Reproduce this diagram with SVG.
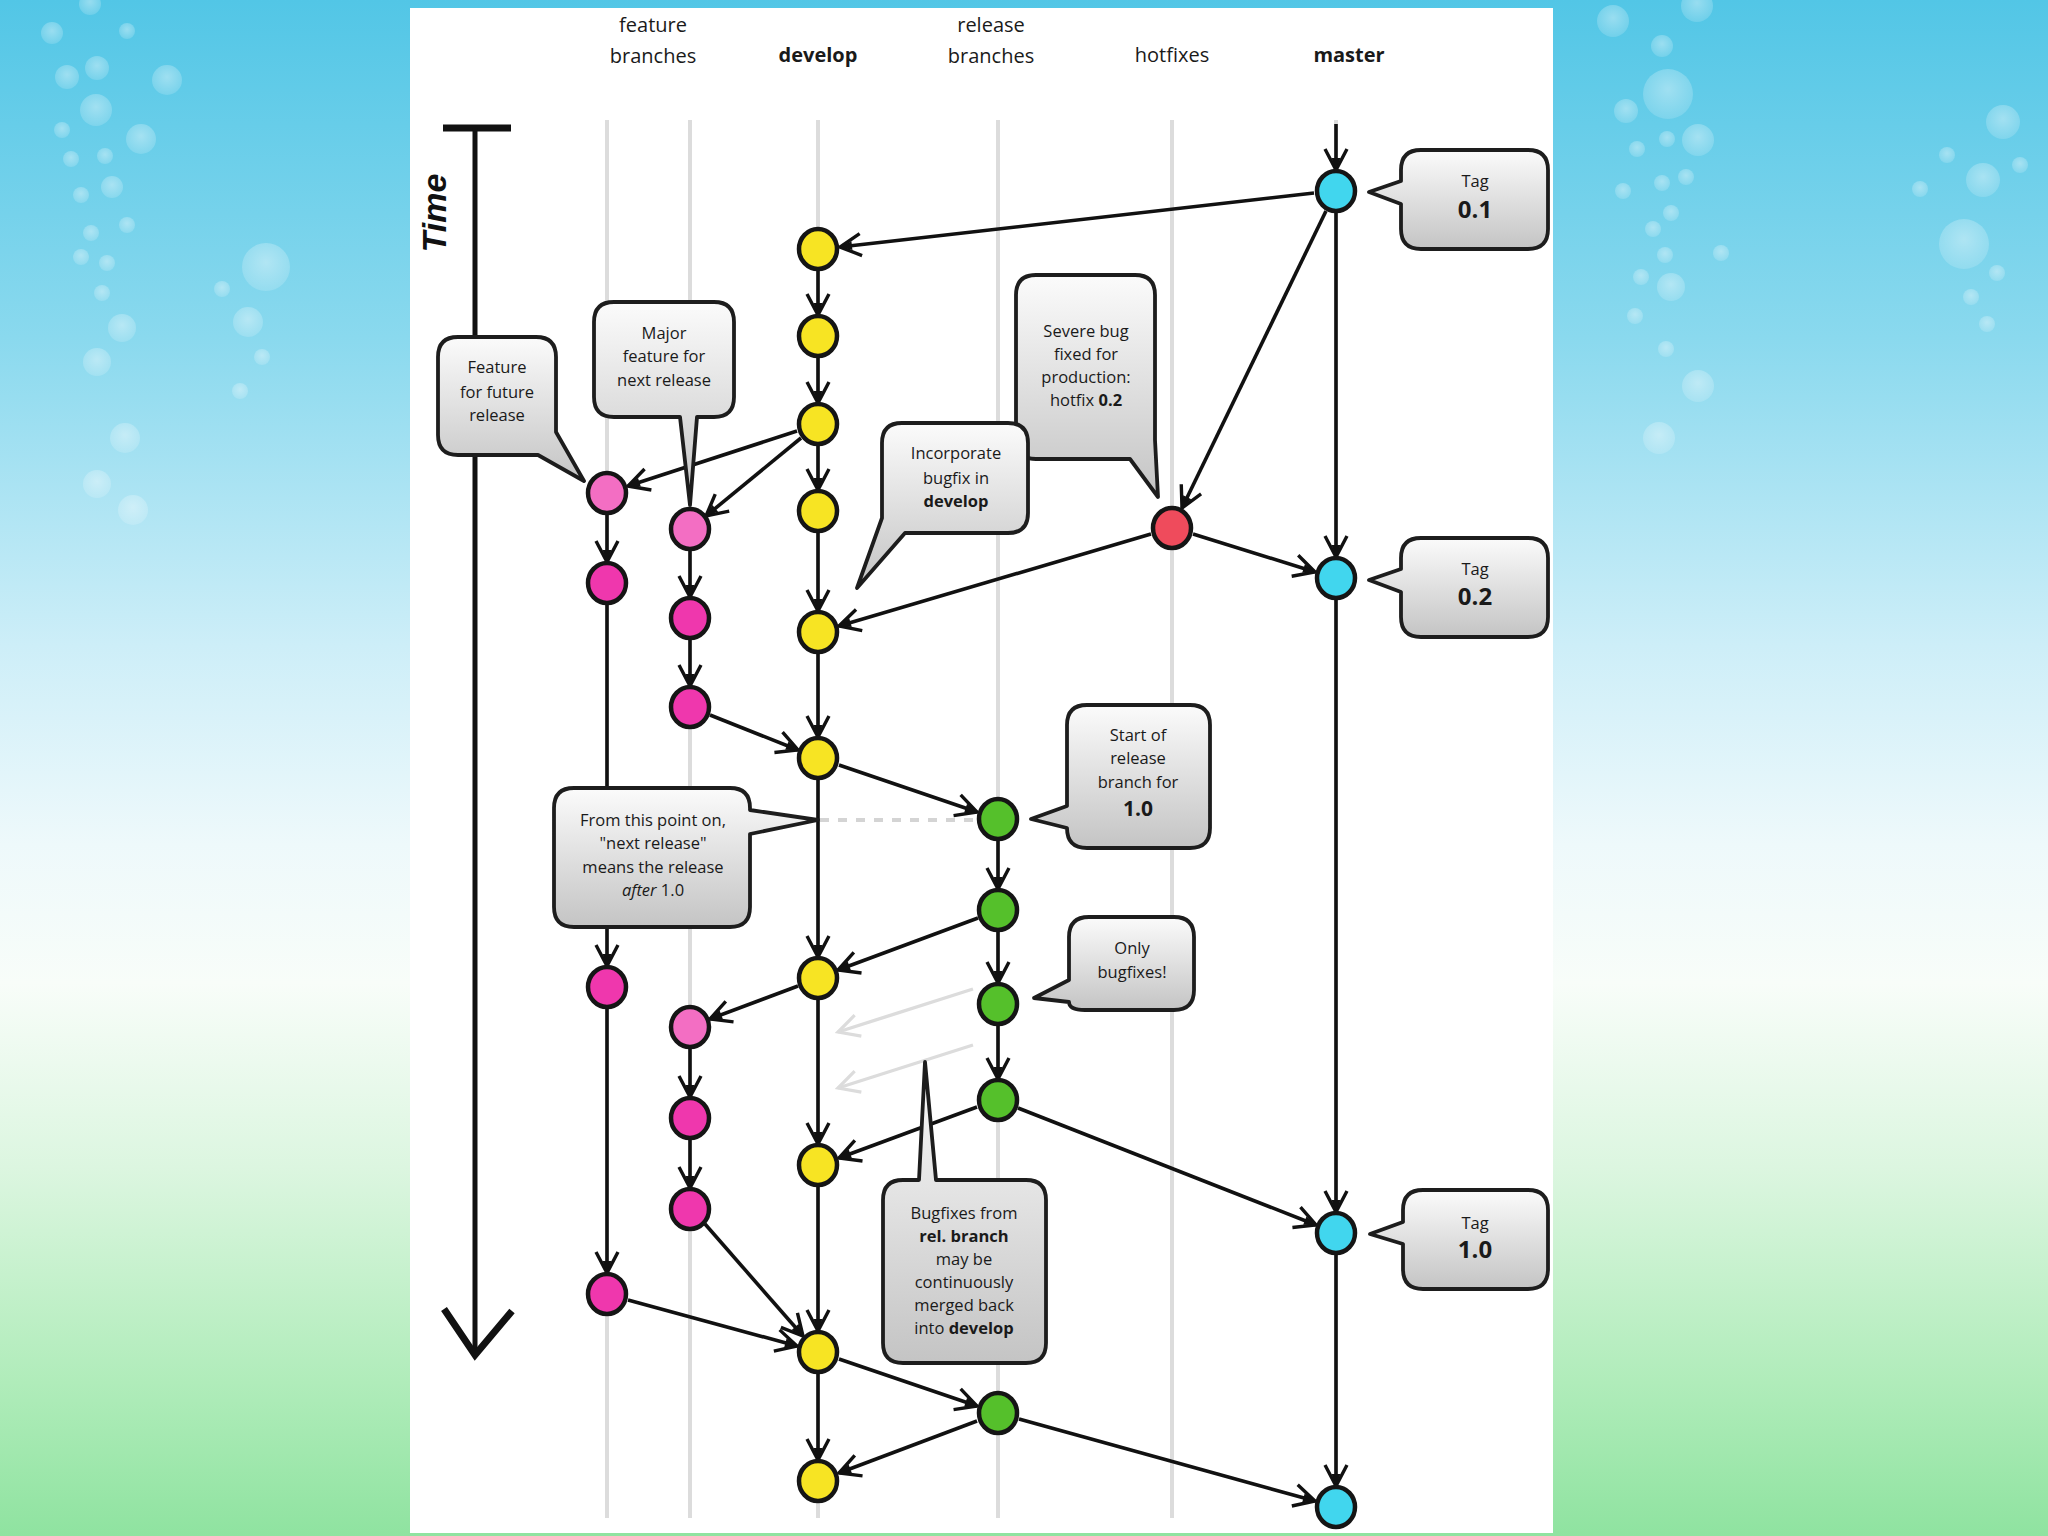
<svg xmlns="http://www.w3.org/2000/svg" width="2048" height="1536" viewBox="0 0 2048 1536">
<defs>
<linearGradient id="bg" x1="0" y1="0" x2="0" y2="1">
<stop offset="0" stop-color="#52c6e6"/>
<stop offset="0.22" stop-color="#8ad9ee"/>
<stop offset="0.42" stop-color="#cdeef8"/>
<stop offset="0.55" stop-color="#eef9fb"/>
<stop offset="0.64" stop-color="#f8fdf9"/>
<stop offset="0.76" stop-color="#dcf6e0"/>
<stop offset="0.9" stop-color="#b0ecba"/>
<stop offset="1" stop-color="#8fe3a0"/>
</linearGradient>
<radialGradient id="bub" cx="0.5" cy="0.4" r="0.6">
<stop offset="0" stop-color="#ffffff" stop-opacity="0.4"/>
<stop offset="1" stop-color="#ffffff" stop-opacity="0.15"/>
</radialGradient>
<linearGradient id="cg" x1="0" y1="0" x2="0" y2="1">
<stop offset="0" stop-color="#fbfbfb"/>
<stop offset="1" stop-color="#c4c4c4"/>
</linearGradient>
<marker id="ah" markerUnits="userSpaceOnUse" markerWidth="28" markerHeight="28" viewBox="0 0 28 28" refX="25" refY="14" orient="auto">
<path d="M4,3 L25,14 L4,25" fill="none" stroke="#111" stroke-width="3.4" stroke-linejoin="miter"/>
<path d="M13,9.5 L25,14 L13,18.5 Z" fill="#111"/>
</marker>
<marker id="ahg" markerUnits="userSpaceOnUse" markerWidth="28" markerHeight="28" viewBox="0 0 28 28" refX="25" refY="14" orient="auto">
<path d="M4,3 L25,14 L4,25" fill="none" stroke="#dcdcdc" stroke-width="3.2"/>
</marker>
<style>
.lane{stroke:#dcdcdc;stroke-width:4;fill:none}
.e{stroke:#111;stroke-width:3.6;fill:none;marker-end:url(#ah)}
.eg{stroke:#dcdcdc;stroke-width:3.4;fill:none;marker-end:url(#ahg)}
.n{stroke:#151515;stroke-width:4.5}
.y{fill:#f7e423}.c{fill:#41d6ee}.g{fill:#55c02b}.p{fill:#f36ec3}.m{fill:#ef37ad}.r{fill:#ef4b5c}
.co{fill:url(#cg);stroke:#1d1d1d;stroke-width:3.8;stroke-linejoin:round}
.t{font-family:"Open Sans","Noto Sans","Liberation Sans",sans-serif;font-size:16.5px;fill:#1a1a1a;text-anchor:middle}
.h{font-family:"Open Sans","Noto Sans","Liberation Sans",sans-serif;font-size:20px;fill:#1a1a1a;text-anchor:middle}
.b{font-weight:bold}
.bub{fill:url(#bub)}
</style>
</defs>

<rect x="0" y="0" width="2048" height="1536" fill="url(#bg)"/>
<g id="bubbles">
<circle class="bub" cx="90" cy="4" r="11"/><circle class="bub" cx="52" cy="33" r="11"/><circle class="bub" cx="127" cy="31" r="8"/>
<circle class="bub" cx="67" cy="77" r="12"/><circle class="bub" cx="97" cy="68" r="12"/><circle class="bub" cx="167" cy="80" r="15"/>
<circle class="bub" cx="96" cy="110" r="16"/><circle class="bub" cx="62" cy="130" r="8"/><circle class="bub" cx="141" cy="139" r="15"/>
<circle class="bub" cx="71" cy="159" r="8"/><circle class="bub" cx="105" cy="156" r="8"/><circle class="bub" cx="112" cy="187" r="11"/>
<circle class="bub" cx="81" cy="195" r="8"/><circle class="bub" cx="91" cy="233" r="8"/><circle class="bub" cx="127" cy="225" r="8"/>
<circle class="bub" cx="81" cy="257" r="8"/><circle class="bub" cx="107" cy="263" r="8"/><circle class="bub" cx="102" cy="293" r="8"/>
<circle class="bub" cx="122" cy="328" r="14"/><circle class="bub" cx="97" cy="362" r="14"/><circle class="bub" cx="266" cy="267" r="24"/>
<circle class="bub" cx="222" cy="289" r="8"/><circle class="bub" cx="248" cy="322" r="15"/><circle class="bub" cx="262" cy="357" r="8"/>
<circle class="bub" cx="240" cy="391" r="8"/><circle class="bub" cx="125" cy="438" r="15"/><circle class="bub" cx="97" cy="484" r="14"/>
<circle class="bub" cx="133" cy="510" r="15"/>
<circle class="bub" cx="1613" cy="21" r="16"/><circle class="bub" cx="1697" cy="6" r="16"/><circle class="bub" cx="1662" cy="46" r="11"/>
<circle class="bub" cx="1668" cy="94" r="25"/><circle class="bub" cx="1626" cy="111" r="12"/><circle class="bub" cx="1698" cy="140" r="16"/>
<circle class="bub" cx="1667" cy="139" r="8"/><circle class="bub" cx="1637" cy="149" r="8"/><circle class="bub" cx="1662" cy="183" r="8"/>
<circle class="bub" cx="1686" cy="177" r="8"/><circle class="bub" cx="1623" cy="191" r="8"/><circle class="bub" cx="1671" cy="213" r="8"/>
<circle class="bub" cx="1653" cy="229" r="8"/><circle class="bub" cx="1665" cy="255" r="8"/><circle class="bub" cx="1721" cy="253" r="8"/>
<circle class="bub" cx="1641" cy="277" r="8"/><circle class="bub" cx="1671" cy="287" r="14"/><circle class="bub" cx="1635" cy="316" r="8"/>
<circle class="bub" cx="1666" cy="349" r="8"/><circle class="bub" cx="1698" cy="386" r="16"/><circle class="bub" cx="1659" cy="438" r="16"/>
<circle class="bub" cx="2003" cy="122" r="17"/><circle class="bub" cx="1947" cy="155" r="8"/><circle class="bub" cx="2020" cy="165" r="8"/>
<circle class="bub" cx="1983" cy="180" r="17"/><circle class="bub" cx="1920" cy="189" r="8"/><circle class="bub" cx="1964" cy="244" r="25"/>
<circle class="bub" cx="1997" cy="273" r="8"/><circle class="bub" cx="1971" cy="297" r="8"/><circle class="bub" cx="1987" cy="324" r="8"/>
</g>

<rect id="panel" x="410" y="8" width="1143" height="1525" fill="#ffffff"/>

<g id="headers">
<text class="h" x="653" y="32">feature</text>
<text class="h" x="653" y="63">branches</text>
<text class="h b" x="818" y="62">develop</text>
<text class="h" x="991" y="32">release</text>
<text class="h" x="991" y="63">branches</text>
<text class="h" x="1172" y="62">hotfixes</text>
<text class="h b" x="1349" y="62">master</text>
</g>

<g id="lanes">
<line class="lane" x1="607" y1="120" x2="607" y2="1518"/>
<line class="lane" x1="690" y1="120" x2="690" y2="1518"/>
<line class="lane" x1="818" y1="120" x2="818" y2="1518"/>
<line class="lane" x1="998" y1="120" x2="998" y2="1518"/>
<line class="lane" x1="1172" y1="120" x2="1172" y2="1518"/>
<line class="lane" x1="1336" y1="120" x2="1336" y2="1518"/>
</g>

<g id="time-axis">
<line x1="443" y1="128" x2="511" y2="128" stroke="#111" stroke-width="7"/>
<line x1="475" y1="128" x2="475" y2="1352" stroke="#111" stroke-width="5"/>
<path d="M444,1309 L475,1355 L512,1311" fill="none" stroke="#111" stroke-width="7" stroke-linejoin="miter"/>
<text transform="translate(446,213) rotate(-90)" text-anchor="middle" font-family="'Liberation Sans',Arial,sans-serif" font-size="34" font-weight="bold" font-style="italic" fill="#111">Time</text>
</g>

<g id="connectors">
<line class="e" x1="1336" y1="124" x2="1336" y2="170"/>
<line class="e" x1="1314" y1="193" x2="840" y2="247"/>
<line class="e" x1="1326" y1="211" x2="1182" y2="508"/>
<line class="e" x1="1336" y1="212" x2="1336" y2="557"/>
<line class="e" x1="1193" y1="534" x2="1315" y2="572"/>
<line class="e" x1="1151" y1="534" x2="839" y2="626"/>
<line class="e" x1="818" y1="270" x2="818" y2="315"/>
<line class="e" x1="818" y1="357" x2="818" y2="403"/>
<line class="e" x1="818" y1="445" x2="818" y2="490"/>
<line class="e" x1="818" y1="532" x2="818" y2="611"/>
<line class="e" x1="818" y1="653" x2="818" y2="737"/>
<line class="e" x1="818" y1="779" x2="818" y2="957"/>
<line class="e" x1="818" y1="999" x2="818" y2="1144"/>
<line class="e" x1="818" y1="1186" x2="818" y2="1331"/>
<line class="e" x1="818" y1="1373" x2="818" y2="1460"/>
<line class="e" x1="797" y1="431" x2="628" y2="486"/>
<line class="e" x1="801" y1="438" x2="706" y2="516"/>
<line class="e" x1="607" y1="514" x2="607" y2="562"/>
<line class="e" x1="607" y1="604" x2="607" y2="966"/>
<line class="e" x1="607" y1="1008" x2="607" y2="1273"/>
<line class="e" x1="690" y1="550" x2="690" y2="597"/>
<line class="e" x1="690" y1="639" x2="690" y2="686"/>
<line class="e" x1="710" y1="715" x2="798" y2="750"/>
<line class="e" x1="839" y1="765" x2="977" y2="812"/>
<line x1="820" y1="820" x2="976" y2="820" stroke="#d4d4d4" stroke-width="4" stroke-dasharray="9,9"/>
<line class="e" x1="998" y1="840" x2="998" y2="889"/>
<line class="e" x1="998" y1="931" x2="998" y2="983"/>
<line class="e" x1="998" y1="1025" x2="998" y2="1079"/>
<line class="e" x1="978" y1="918" x2="838" y2="970"/>
<line class="e" x1="798" y1="986" x2="710" y2="1019"/>
<line class="e" x1="690" y1="1048" x2="690" y2="1097"/>
<line class="e" x1="690" y1="1139" x2="690" y2="1188"/>
<line class="eg" x1="973" y1="989" x2="838" y2="1032"/>
<line class="eg" x1="973" y1="1045" x2="838" y2="1088"/>
<line class="e" x1="977" y1="1107" x2="839" y2="1158"/>
<line class="e" x1="1018" y1="1108" x2="1316" y2="1225"/>
<line class="e" x1="1336" y1="599" x2="1336" y2="1212"/>
<line class="e" x1="705" y1="1224" x2="803" y2="1336"/>
<line class="e" x1="628" y1="1300" x2="797" y2="1346"/>
<line class="e" x1="839" y1="1359" x2="977" y2="1406"/>
<line class="e" x1="977" y1="1421" x2="839" y2="1473"/>
<line class="e" x1="1019" y1="1419" x2="1315" y2="1501"/>
<line class="e" x1="1336" y1="1254" x2="1336" y2="1486"/>
</g>

<g id="nodes">
<ellipse id="m1" class="n c" cx="1336" cy="191" rx="19" ry="20"/>
<ellipse id="m2" class="n c" cx="1336" cy="578" rx="19" ry="20"/>
<ellipse id="m3" class="n c" cx="1336" cy="1233" rx="19" ry="20"/>
<ellipse id="m4" class="n c" cx="1336" cy="1507" rx="19" ry="20"/>
<ellipse id="h1" class="n r" cx="1172" cy="528" rx="19" ry="20"/>
<ellipse id="d1" class="n y" cx="818" cy="249" rx="19" ry="20"/>
<ellipse id="d2" class="n y" cx="818" cy="336" rx="19" ry="20"/>
<ellipse id="d3" class="n y" cx="818" cy="424" rx="19" ry="20"/>
<ellipse id="d4" class="n y" cx="818" cy="511" rx="19" ry="20"/>
<ellipse id="d5" class="n y" cx="818" cy="632" rx="19" ry="20"/>
<ellipse id="d6" class="n y" cx="818" cy="758" rx="19" ry="20"/>
<ellipse id="d7" class="n y" cx="818" cy="978" rx="19" ry="20"/>
<ellipse id="d8" class="n y" cx="818" cy="1165" rx="19" ry="20"/>
<ellipse id="d9" class="n y" cx="818" cy="1352" rx="19" ry="20"/>
<ellipse id="d10" class="n y" cx="818" cy="1481" rx="19" ry="20"/>
<ellipse id="f1a" class="n p" cx="607" cy="493" rx="19" ry="20"/>
<ellipse id="f1b" class="n m" cx="607" cy="583" rx="19" ry="20"/>
<ellipse id="f1c" class="n m" cx="607" cy="987" rx="19" ry="20"/>
<ellipse id="f1d" class="n m" cx="607" cy="1294" rx="19" ry="20"/>
<ellipse id="f2a" class="n p" cx="690" cy="529" rx="19" ry="20"/>
<ellipse id="f2b" class="n m" cx="690" cy="618" rx="19" ry="20"/>
<ellipse id="f2c" class="n m" cx="690" cy="707" rx="19" ry="20"/>
<ellipse id="f2d" class="n p" cx="690" cy="1027" rx="19" ry="20"/>
<ellipse id="f2e" class="n m" cx="690" cy="1118" rx="19" ry="20"/>
<ellipse id="f2f" class="n m" cx="690" cy="1209" rx="19" ry="20"/>
<ellipse id="r1" class="n g" cx="998" cy="819" rx="19" ry="20"/>
<ellipse id="r2" class="n g" cx="998" cy="910" rx="19" ry="20"/>
<ellipse id="r3" class="n g" cx="998" cy="1004" rx="19" ry="20"/>
<ellipse id="r4" class="n g" cx="998" cy="1100" rx="19" ry="20"/>
<ellipse id="r5" class="n g" cx="998" cy="1413" rx="19" ry="20"/>
</g>

<g id="callout-tag01">
<path class="co" d="M1421,150 H1528 Q1548,150 1548,170 V229 Q1548,249 1528,249 H1421 Q1401,249 1401,229 V204 L1369,192 L1401,181 V170 Q1401,150 1421,150 Z"/>
<text class="t" x="1475" y="187">Tag</text>
<text class="t b" x="1475" y="218" style="font-size:24px">0.1</text>
</g>
<g id="callout-tag02">
<path class="co" d="M1421,538 H1528 Q1548,538 1548,558 V617 Q1548,637 1528,637 H1421 Q1401,637 1401,617 V592 L1369,580 L1401,569 V558 Q1401,538 1421,538 Z"/>
<text class="t" x="1475" y="575">Tag</text>
<text class="t b" x="1475" y="605" style="font-size:24px">0.2</text>
</g>
<g id="callout-tag10">
<path class="co" d="M1423,1190 H1528 Q1548,1190 1548,1210 V1269 Q1548,1289 1528,1289 H1423 Q1403,1289 1403,1269 V1244 L1370,1234 L1403,1222 V1210 Q1403,1190 1423,1190 Z"/>
<text class="t" x="1475" y="1229">Tag</text>
<text class="t b" x="1475" y="1258" style="font-size:24px">1.0</text>
</g>
<g id="callout-future">
<path class="co" d="M458,337 H536 Q556,337 556,357 V432 L584,481 L538,455 H458 Q438,455 438,435 V357 Q438,337 458,337 Z"/>
<text class="t" x="497" y="373">Feature</text>
<text class="t" x="497" y="398">for future</text>
<text class="t" x="497" y="421">release</text>
</g>
<g id="callout-major">
<path class="co" d="M614,302 H714 Q734,302 734,322 V397 Q734,417 714,417 H697 L690,505 L680,417 H614 Q594,417 594,397 V322 Q594,302 614,302 Z"/>
<text class="t" x="664" y="339">Major</text>
<text class="t" x="664" y="362">feature for</text>
<text class="t" x="664" y="386">next release</text>
</g>
<g id="callout-severe">
<path class="co" d="M1036,275 H1135 Q1155,275 1155,295 V440 L1158,497 L1130,459 H1036 Q1016,459 1016,439 V295 Q1016,275 1036,275 Z"/>
<text class="t" x="1086" y="337">Severe bug</text>
<text class="t" x="1086" y="360">fixed for</text>
<text class="t" x="1086" y="383">production:</text>
<text class="t" x="1086" y="406">hotfix <tspan class="b">0.2</tspan></text>
</g>
<g id="callout-incorporate">
<path class="co" d="M902,423 H1008 Q1028,423 1028,443 V513 Q1028,533 1008,533 H905 L857,588 L882,518 V443 Q882,423 902,423 Z"/>
<text class="t" x="956" y="459">Incorporate</text>
<text class="t" x="956" y="484">bugfix in</text>
<text class="t b" x="956" y="507">develop</text>
</g>
<g id="callout-start">
<path class="co" d="M1087,705 H1190 Q1210,705 1210,725 V828 Q1210,848 1190,848 H1087 Q1067,848 1067,828 L1031,819 L1067,806 V725 Q1067,705 1087,705 Z"/>
<text class="t" x="1138" y="741">Start of</text>
<text class="t" x="1138" y="764">release</text>
<text class="t" x="1138" y="788">branch for</text>
<text class="t b" x="1138" y="816" style="font-size:21px">1.0</text>
</g>
<g id="callout-frompoint">
<path class="co" d="M574,788 H730 Q750,788 750,808 V810 L818,820 L750,834 V907 Q750,927 730,927 H574 Q554,927 554,907 V808 Q554,788 574,788 Z"/>
<text class="t" x="653" y="826">From this point on,</text>
<text class="t" x="653" y="849">"next release"</text>
<text class="t" x="653" y="873">means the release</text>
<text class="t" x="653" y="896"><tspan font-style="italic">after</tspan> 1.0</text>
</g>
<g id="callout-only">
<path class="co" d="M1089,917 H1174 Q1194,917 1194,937 V990 Q1194,1010 1174,1010 H1085 Q1069,1010 1069,1002 L1034,998 L1069,980 V937 Q1069,917 1089,917 Z"/>
<text class="t" x="1132" y="954">Only</text>
<text class="t" x="1132" y="978">bugfixes!</text>
</g>
<g id="callout-bugfixes">
<path class="co" d="M903,1180 H919 L925,1062 L936,1180 H1026 Q1046,1180 1046,1200 V1343 Q1046,1363 1026,1363 H903 Q883,1363 883,1343 V1200 Q883,1180 903,1180 Z"/>
<text class="t" x="964" y="1219">Bugfixes from</text>
<text class="t b" x="964" y="1242">rel. branch</text>
<text class="t" x="964" y="1265">may be</text>
<text class="t" x="964" y="1288">continuously</text>
<text class="t" x="964" y="1311">merged back</text>
<text class="t" x="964" y="1334">into <tspan class="b">develop</tspan></text>
</g>
</svg>
